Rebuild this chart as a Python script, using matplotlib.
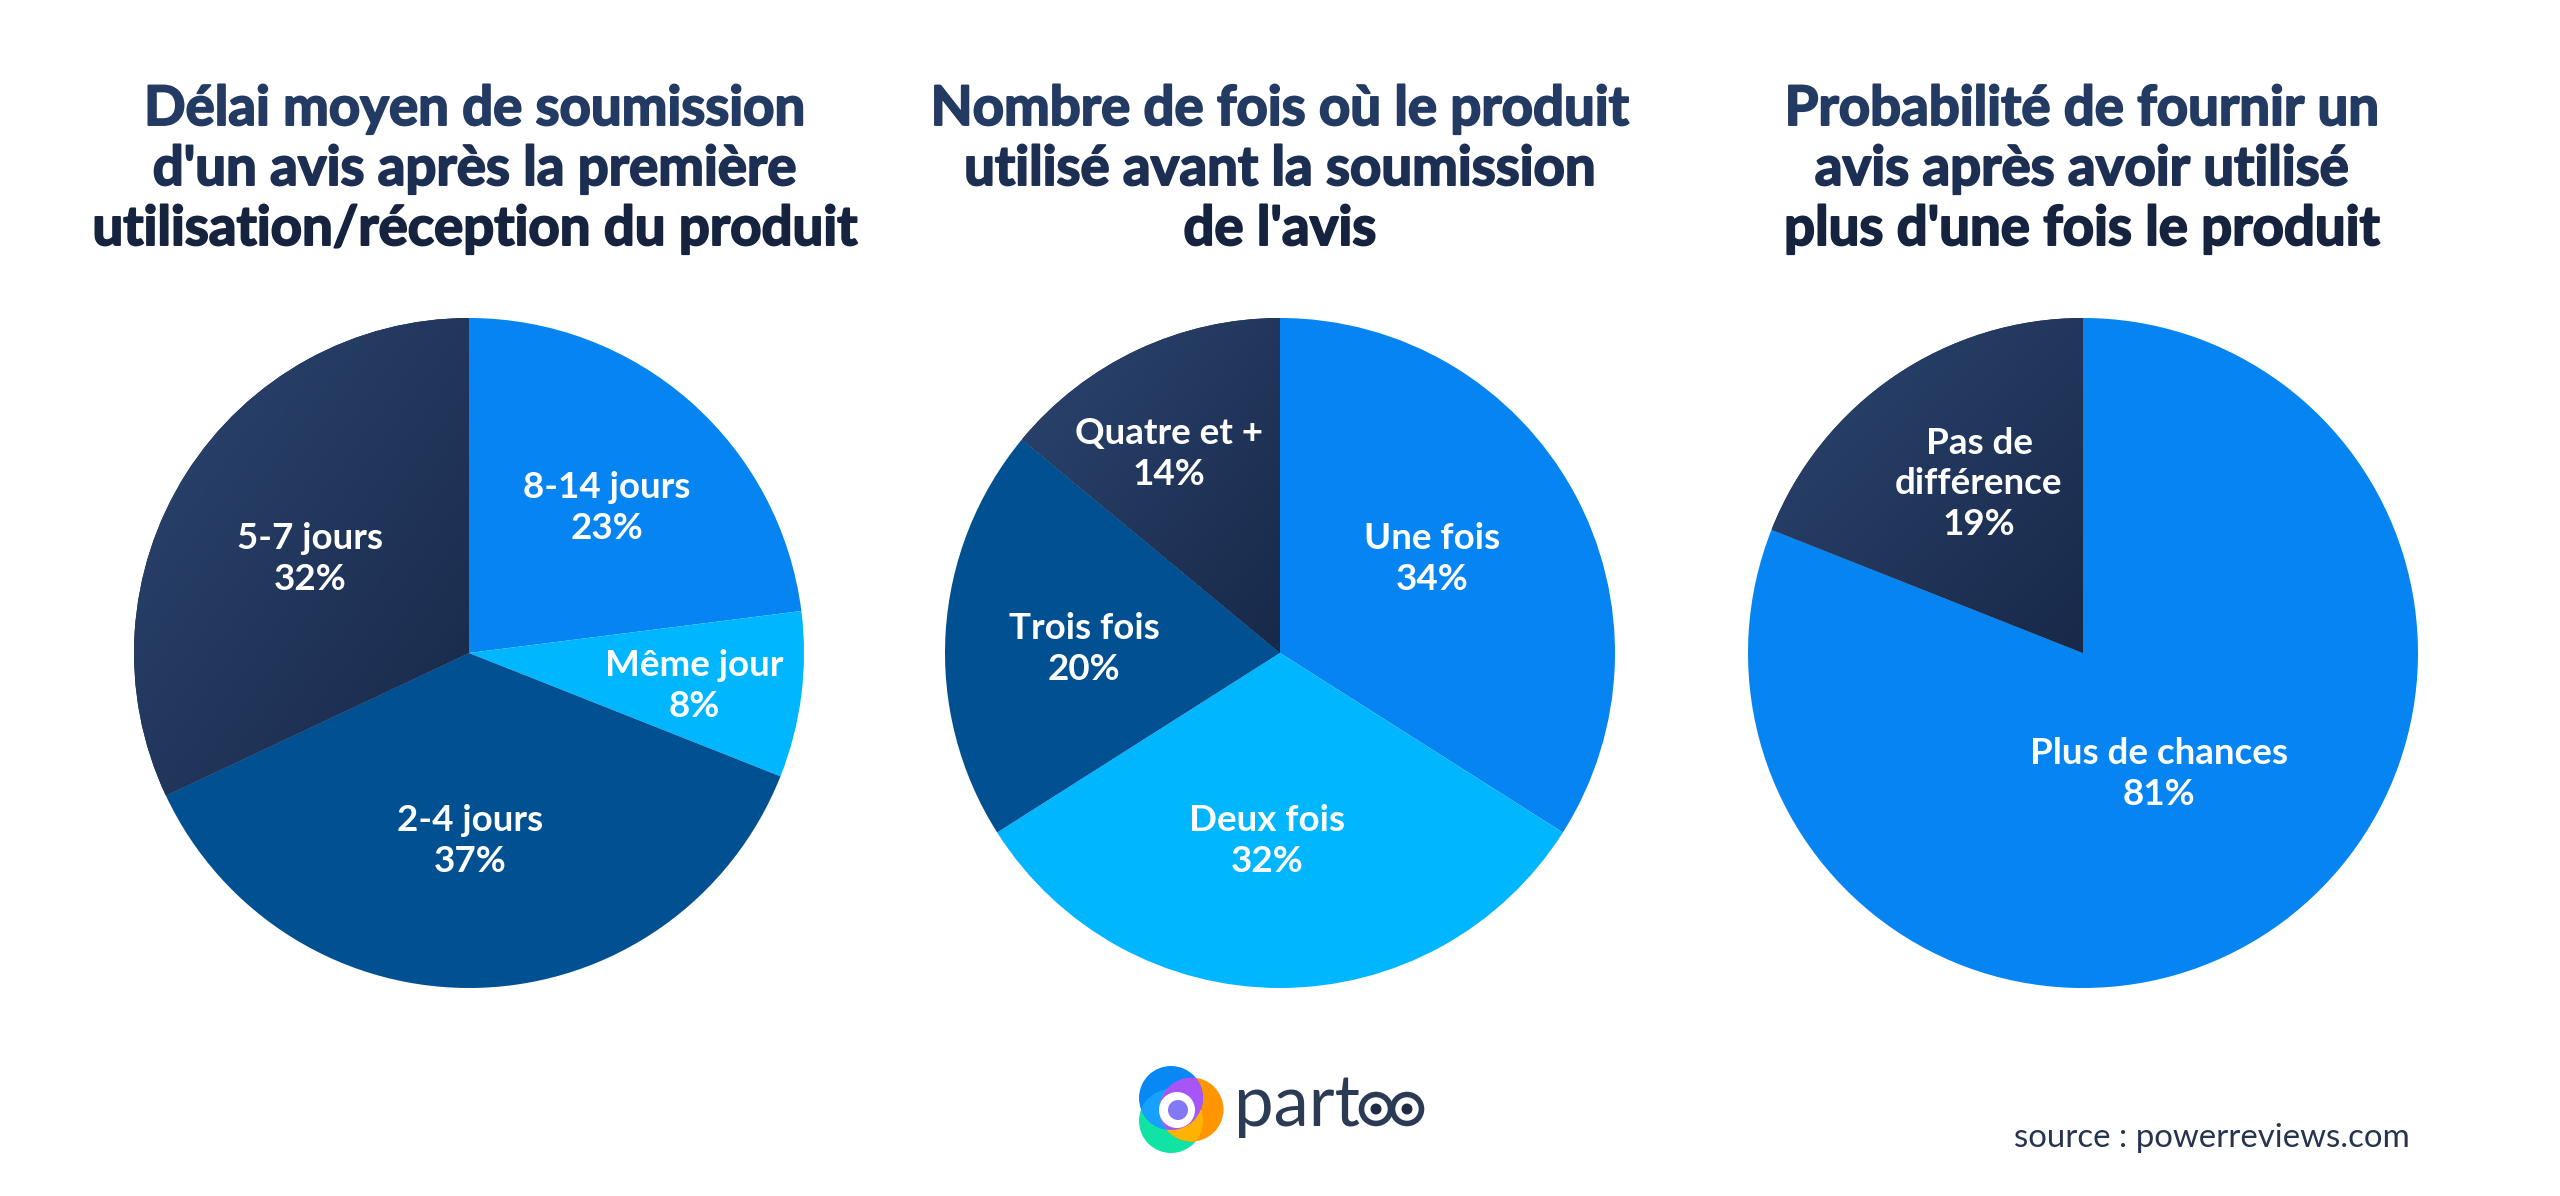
import numpy as np
import matplotlib
matplotlib.use("Agg")
import matplotlib.pyplot as plt
import matplotlib.patheffects as pe
from matplotlib.colors import LinearSegmentedColormap
from matplotlib.patches import Circle

W, H = 2560, 1196

# --- data ---
titles = [
    ["Délai moyen de soumission", "d'un avis après la première", "utilisation/réception du produit"],
    ["Nombre de fois où le produit", "utilisé avant la soumission", "de l'avis"],
    ["Probabilité de fournir un", "avis après avoir utilisé", "plus d'une fois le produit"],
]
delay_labels = ["8-14 jours", "Même jour", "2-4 jours", "5-7 jours"]
delay_values = [23, 8, 37, 32]
uses_labels = ["Une fois", "Deux fois", "Trois fois", "Quatre et +"]
uses_values = [34, 32, 20, 14]
likely_labels = ["Plus de chances", "Pas de\ndifférence"]
likely_values = [81, 19]
source_text = "source : powerreviews.com"
brand_text = "part"

# --- styles and layout ---
BLUE, SKY, MID, NAVY = "#0584f2", "#00b6ff", "#005092", "gradient"
delay_colors = [BLUE, SKY, MID, NAVY]
uses_colors = [BLUE, SKY, MID, NAVY]
likely_colors = [BLUE, NAVY]
centers_x = [469, 1280, 2083]
center_y = 653
radius = 335
title_x = [475, 1280, 2082]
title_y = [109, 169, 229]
title_colors = ["#233a63", "#1c2f52", "#15233f"]
delay_pos = [(607, 508), (694, 686), (470, 841), (310, 559)]
uses_pos = [(1432, 559), (1267, 841), (1084, 649), (1169, 454)]
likely_pos = [(2159, 774), (1979, 484)]

plt.rcParams["font.family"] = ["Lato", "DejaVu Sans"]
fig = plt.figure(figsize=(W / 100, H / 100), dpi=100, facecolor="white")

navy_cmap = LinearSegmentedColormap.from_list("navy", ["#2c4570", "#182949"])
grad = np.add.outer(np.linspace(0, 1, 256), np.linspace(0, 1, 256)) / 2


def draw_pie(cx, values, colors):
    ax = fig.add_axes([(cx - radius) / W, (H - center_y - radius) / H,
                       2 * radius / W, 2 * radius / H])
    flat = [c if c != "gradient" else "#1d3055" for c in colors]
    wedges, _ = ax.pie(values, colors=flat, startangle=90, counterclock=False,
                       radius=1, wedgeprops={"linewidth": 0})
    ax.set_xlim(-1, 1)
    ax.set_ylim(-1, 1)
    for w, c in zip(wedges, colors):
        if c == "gradient":
            box = w.get_path().get_extents(w.get_patch_transform())
            im = ax.imshow(grad, cmap=navy_cmap,
                           extent=(box.x0, box.x1, box.y0, box.y1),
                           origin="upper", aspect="auto", zorder=w.get_zorder() + 0.1)
            im.set_clip_path(w)
    ax.set_xlim(-1, 1)
    ax.set_ylim(-1, 1)
    ax.axis("off")


draw_pie(centers_x[0], delay_values, delay_colors)
draw_pie(centers_x[1], uses_values, uses_colors)
draw_pie(centers_x[2], likely_values, likely_colors)

# overlay for text
ov = fig.add_axes([0, 0, 1, 1], facecolor="none")
ov.set_xlim(0, W)
ov.set_ylim(H, 0)
ov.axis("off")

for x, lines in zip(title_x, titles):
    for y, c, line in zip(title_y, title_colors, lines):
        ov.text(x, y, line, ha="center", va="center", fontsize=39.3,
                fontweight="bold", color=c,
                path_effects=[pe.withStroke(linewidth=1.4, foreground=c)])


def slice_labels(labels, values, positions):
    for lab, v, (x, y) in zip(labels, values, positions):
        ov.text(x, y, f"{lab}\n{v}%", ha="center", va="center", fontsize=26.5,
                fontweight="bold", color="white", linespacing=1.28)


slice_labels(delay_labels, delay_values, delay_pos)
slice_labels(uses_labels, uses_values, uses_pos)
slice_labels(likely_labels, likely_values, likely_pos)

ov.text(2410, 1138, source_text, ha="right", va="center", fontsize=23.8, color="#26344f")

# logo
bc, gc, oc = (1171, 1098), (1171, 1121), (1191.5, 1109.5)
r = 32
for center, col in ((gc, "#10e3a3"), (oc, "#ff9500"), (bc, "#0788f5")):
    ov.add_patch(Circle(center, r, fc=col, ec="none"))
for center, clip, col in ((gc, bc, "#16a0ff"), (gc, oc, "#ffb300"), (oc, bc, "#a855f7")):
    p = Circle(center, r, fc=col, ec="none")
    ov.add_patch(p)
    p.set_clip_path(Circle(clip, r, transform=ov.transData))
ov.add_patch(Circle((1177, 1110), 18, fc="white", ec="none"))
ov.add_patch(Circle((1178, 1110), 10, fc="#8479f5", ec="none"))

ink = "#2b3a55"
ov.text(1234, 1126, brand_text, ha="left", va="baseline", fontsize=51, color=ink)
for ox in (1376, 1407):
    ov.add_patch(Circle((ox, 1109), 14.5, fc="white", ec=ink, lw=4))
    ov.add_patch(Circle((ox, 1109), 5.5, fc="#1f2b44", ec="none"))

fig.savefig("out.png", dpi=100, facecolor="white")
